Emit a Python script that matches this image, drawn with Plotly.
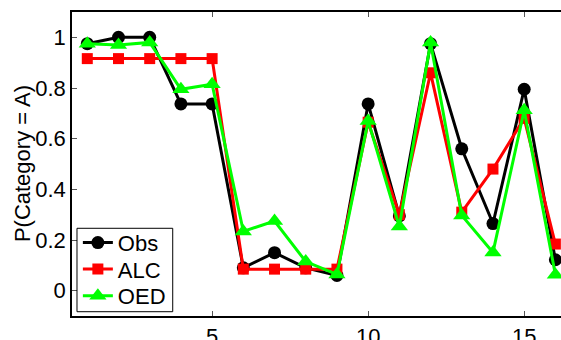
import plotly.graph_objects as go

x = list(range(1, 17))
obs = [0.975, 1.0, 1.0, 0.737, 0.737, 0.09, 0.15, 0.09, 0.06, 0.737, 0.295, 0.975, 0.56, 0.265, 0.795, 0.122]
alc = [0.916, 0.916, 0.916, 0.916, 0.916, 0.085, 0.085, 0.085, 0.085, 0.665, 0.30, 0.86, 0.31, 0.48, 0.68, 0.184]
oed = [0.975, 0.97, 0.98, 0.795, 0.815, 0.234, 0.275, 0.115, 0.064, 0.67, 0.253, 0.98, 0.297, 0.151, 0.712, 0.063]

y_ticks = [0, 0.2, 0.4, 0.6, 0.8, 1]
y_ticktext = ["0", "0.2", "0.4", "0.6", "0.8", "1"]
x_ticks = [5, 10, 15]
y_title = "P(Category = A)"

FONT = "Liberation Sans, Arial, Helvetica, sans-serif"

fig = go.Figure()
fig.add_trace(go.Scatter(x=x, y=obs, name="Obs", mode="lines+markers", legend="legend",
                         line=dict(color="black", width=3),
                         marker=dict(symbol="circle", size=13, color="black")))
fig.add_trace(go.Scatter(x=x, y=alc, name="ALC", mode="lines+markers", legend="legend2",
                         line=dict(color="#ff0000", width=3),
                         marker=dict(symbol="square", size=11, color="#ff0000")))
fig.add_trace(go.Scatter(x=x, y=oed, name="OED", mode="lines+markers", legend="legend3",
                         line=dict(color="#00ff00", width=3),
                         marker=dict(symbol="triangle-up", size=15, color="#00ff00")))

leg_common = dict(x=0.012, xanchor="left", yanchor="middle", bgcolor="rgba(0,0,0,0)",
                  borderwidth=0, font=dict(size=22), itemwidth=30)

fig.update_layout(
    width=561, height=340,
    margin=dict(l=72, r=0, t=12, b=24),
    paper_bgcolor="white", plot_bgcolor="white",
    font=dict(family=FONT, size=22, color="black"),
    showlegend=True,
    legend=dict(y=0.241, **leg_common),
    legend2=dict(y=0.1536, **leg_common),
    legend3=dict(y=0.0658, **leg_common),
    shapes=[dict(type="rect", xref="paper", yref="paper", x0=0.0102, x1=0.206,
                 y0=0.0141, y1=0.2885, line=dict(color="black", width=1),
                 fillcolor="white", layer="above")],
    annotations=[dict(text=y_title, xref="paper", yref="paper", x=-0.102, y=0.5,
                      xanchor="center", yanchor="middle", textangle=-90,
                      showarrow=False, font=dict(size=22))],
    xaxis=dict(range=[0.51, 16.18], tickvals=x_ticks, ticks="inside", ticklen=5,
               tickcolor="#555", showline=True, linecolor="black", linewidth=1.5,
               mirror="ticks", showgrid=False, zeroline=False, automargin=False,
               tickfont=dict(size=22)),
    yaxis=dict(range=[-0.1, 1.1], tickvals=y_ticks, ticktext=y_ticktext,
               ticks="inside", ticklen=5, tickcolor="#555", showline=True,
               linecolor="black", linewidth=1.5, showgrid=False, zeroline=False,
               automargin=False, tickfont=dict(size=22)),
)

fig.write_html("out.html", config={"displayModeBar": False},
               post_script="document.body.style.margin='0px';document.body.style.overflow='hidden';")
